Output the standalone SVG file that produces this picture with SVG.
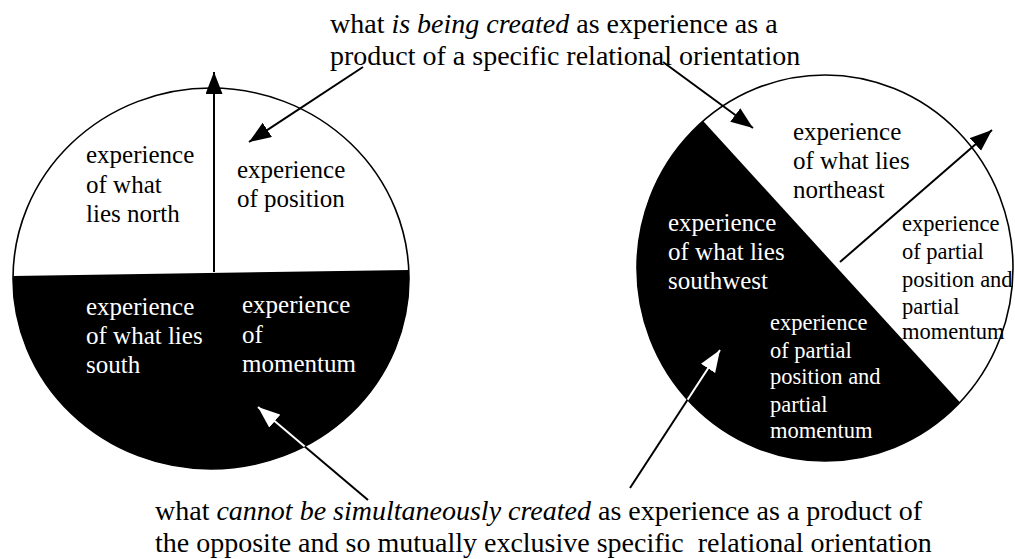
<svg xmlns="http://www.w3.org/2000/svg" width="1015" height="559" viewBox="0 0 1015 559">
<style>
  .disc { fill: #ffffff; stroke: #000000; stroke-width: 1.6; }
  .dark { fill: #000000; }
  .t { font-family: 'Liberation Serif', 'Times New Roman', serif; fill: #000000; }
  .big { font-size: 28px; }
  .mid { font-size: 25px; }
  .sm { font-size: 22.5px; }
  .w { fill: #ffffff; }
  .it { font-style: italic; }
  .ln { stroke: #000000; stroke-width: 2; fill: none; marker-end: url(#ah); }
  .lnw { stroke: #ffffff; stroke-width: 2; fill: none; marker-end: url(#ahw); }
</style>
<defs>
  <marker id="ah" markerUnits="userSpaceOnUse" markerWidth="24" markerHeight="18" refX="22" refY="8.5" orient="auto" viewBox="0 0 24 18">
    <path d="M0,0 L22,8.5 L0,17 Z" fill="#000000"/>
  </marker>
  <marker id="ahw" markerUnits="userSpaceOnUse" markerWidth="24" markerHeight="18" refX="22" refY="8.5" orient="auto" viewBox="0 0 24 18">
    <path d="M0,0 L22,8.5 L0,17 Z" fill="#ffffff"/>
  </marker>
  <clipPath id="clipL"><ellipse cx="211" cy="278.5" rx="198" ry="190.5"/></clipPath>
  <clipPath id="clipR"><ellipse cx="825" cy="268" rx="188" ry="193"/></clipPath>
</defs>
<rect width="1015" height="559" fill="#ffffff"/>

<g id="circle-left">
  <ellipse class="disc" cx="211" cy="278.5" rx="198" ry="190.5"/>
  <g clip-path="url(#clipL)">
    <polygon class="dark" points="-10,276.35 430,269.7 430,520 -10,520"/>
  </g>
</g>

<g id="circle-right">
  <ellipse class="disc" cx="825" cy="268" rx="188" ry="193"/>
  <g clip-path="url(#clipR)">
    <polygon class="dark" points="600,8 1060,512 600,512"/>
  </g>
</g>

<g id="label-top">
  <text class="t big" x="330" y="33">what <tspan class="it">is being created</tspan> as experience as a</text>
  <text class="t big" x="330" y="65">product of a specific relational orientation</text>
</g>

<g id="label-bottom">
  <text class="t big" x="155" y="520">what <tspan class="it">cannot be simultaneously created</tspan> as experience as a product of</text>
  <text class="t big" x="155" y="552" xml:space="preserve">the opposite and so mutually exclusive specific  relational orientation</text>
</g>

<g id="text-north">
  <text class="t mid" x="86" y="163">experience</text>
  <text class="t mid" x="86" y="192.5">of what</text>
  <text class="t mid" x="86" y="222">lies north</text>
</g>
<g id="text-position">
  <text class="t mid" x="237" y="178">experience</text>
  <text class="t mid" x="237" y="207">of position</text>
</g>
<g id="text-south">
  <text class="t mid w" x="86" y="315">experience</text>
  <text class="t mid w" x="86" y="344">of what lies</text>
  <text class="t mid w" x="86" y="373">south</text>
</g>
<g id="text-momentum">
  <text class="t mid w" x="242" y="313">experience</text>
  <text class="t mid w" x="242" y="343">of</text>
  <text class="t mid w" x="242" y="372">momentum</text>
</g>

<g id="text-northeast">
  <text class="t mid" x="793" y="140">experience</text>
  <text class="t mid" x="793" y="169">of what lies</text>
  <text class="t mid" x="793" y="198">northeast</text>
</g>
<g id="text-southwest">
  <text class="t mid w" x="668" y="231">experience</text>
  <text class="t mid w" x="668" y="260">of what lies</text>
  <text class="t mid w" x="668" y="289">southwest</text>
</g>
<g id="text-partial-right">
  <text class="t sm" x="902" y="231">experience</text>
  <text class="t sm" x="902" y="259">of partial</text>
  <text class="t sm" x="902" y="287">position and</text>
  <text class="t sm" x="902" y="314">partial</text>
  <text class="t sm" x="902" y="339">momentum</text>
</g>
<g id="text-partial-dark">
  <text class="t sm w" x="770" y="330">experience</text>
  <text class="t sm w" x="770" y="358">of partial</text>
  <text class="t sm w" x="770" y="384">position and</text>
  <text class="t sm w" x="770" y="412">partial</text>
  <text class="t sm w" x="770" y="438">momentum</text>
</g>

<g id="connectors">
  <line class="ln" x1="363" y1="67" x2="249" y2="142"/>
  <line class="ln" x1="214" y1="272" x2="214" y2="72"/>
  <line class="ln" x1="368" y1="500" x2="258" y2="407"/>
  <line class="ln" x1="663" y1="62" x2="753" y2="128"/>
  <line class="ln" x1="840" y1="262" x2="992" y2="130"/>
  <line class="ln" x1="630" y1="488" x2="720" y2="350"/>
  <g clip-path="url(#clipL)">
    <line class="lnw" x1="368" y1="500" x2="258" y2="407"/>
  </g>
  <g clip-path="url(#clipR)">
    <line class="lnw" x1="630" y1="488" x2="720" y2="350"/>
  </g>
</g>
</svg>
